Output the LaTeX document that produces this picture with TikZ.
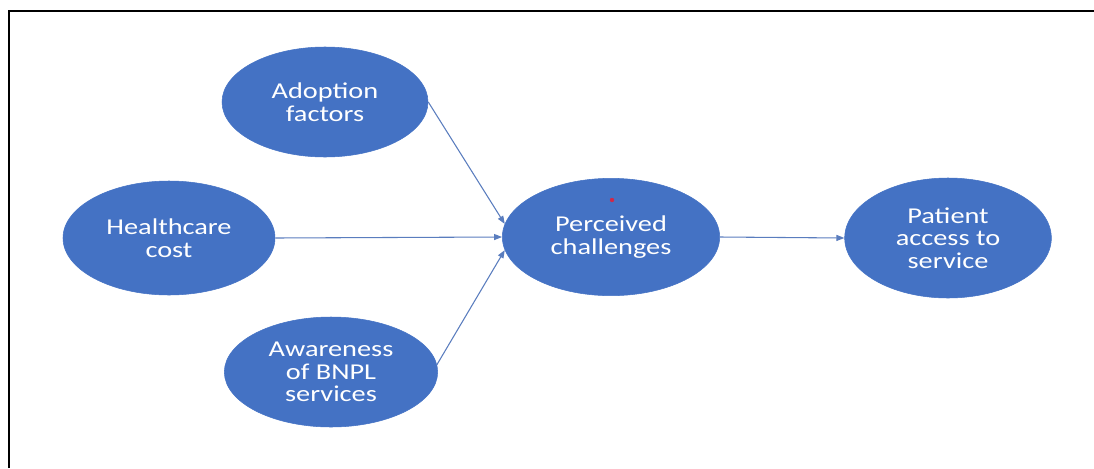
\documentclass[tikz,border=0pt]{standalone}
\usepackage{fontspec}
\usepackage{tikz}
\usetikzlibrary{shapes.geometric,arrows.meta}
\newfontfamily\ovalfont[FakeStretch=1.25]{Carlito}
\definecolor{ovalblue}{HTML}{4472C4}
\definecolor{linkblue}{HTML}{5A7DBE}
\definecolor{dotred}{HTML}{D02848}
\tikzset{
  oval/.style={ellipse, fill=ovalblue, draw=ovalblue, inner sep=0pt, text=white,
    align=center, font=\ovalfont\fontsize{17}{17}\selectfont},
  link/.style={draw=linkblue, line width=0.8pt, -{Triangle[length=6pt,width=4.5pt]}}
}
\begin{document}
\begin{tikzpicture}[x=0.75pt,y=0.75pt,yscale=-1,xscale=1]
\useasboundingbox (0,0) rectangle (1094,468);

%Frame (only top and left edges are in view)
\draw [line width=1.5pt]  (9,468) -- (9,10.5) -- (1094,10.5) ;

%Ellipses
\node [oval, minimum width=154.5pt, minimum height=82.5pt] (adopt) at (325,102) {Adoption\\factors};
\node [oval, minimum width=159pt, minimum height=85.5pt] (cost) at (169,238) {Healthcare\\cost};
\node [oval, minimum width=160pt, minimum height=82.5pt] (aware) at (331,372) {Awareness\\of BNPL\\services};
\node [oval, minimum width=163pt, minimum height=88pt] (chall) at (611,237) {Perceived\\challenges};
\node [oval, minimum width=155pt, minimum height=90pt] (access) at (948,238) {Patient\\access to\\service};

%Red mark
\fill [dotred] (612,200) circle (2.2) ;

%Arrows
\draw [link]  (adopt.east) -- (chall.173) ;
\draw [link]  (cost.east) -- (chall.west) ;
\draw [link]  (aware.4) -- (chall.187) ;
\draw [link]  (chall.east) -- (access.west) ;

\end{tikzpicture}
\end{document}
